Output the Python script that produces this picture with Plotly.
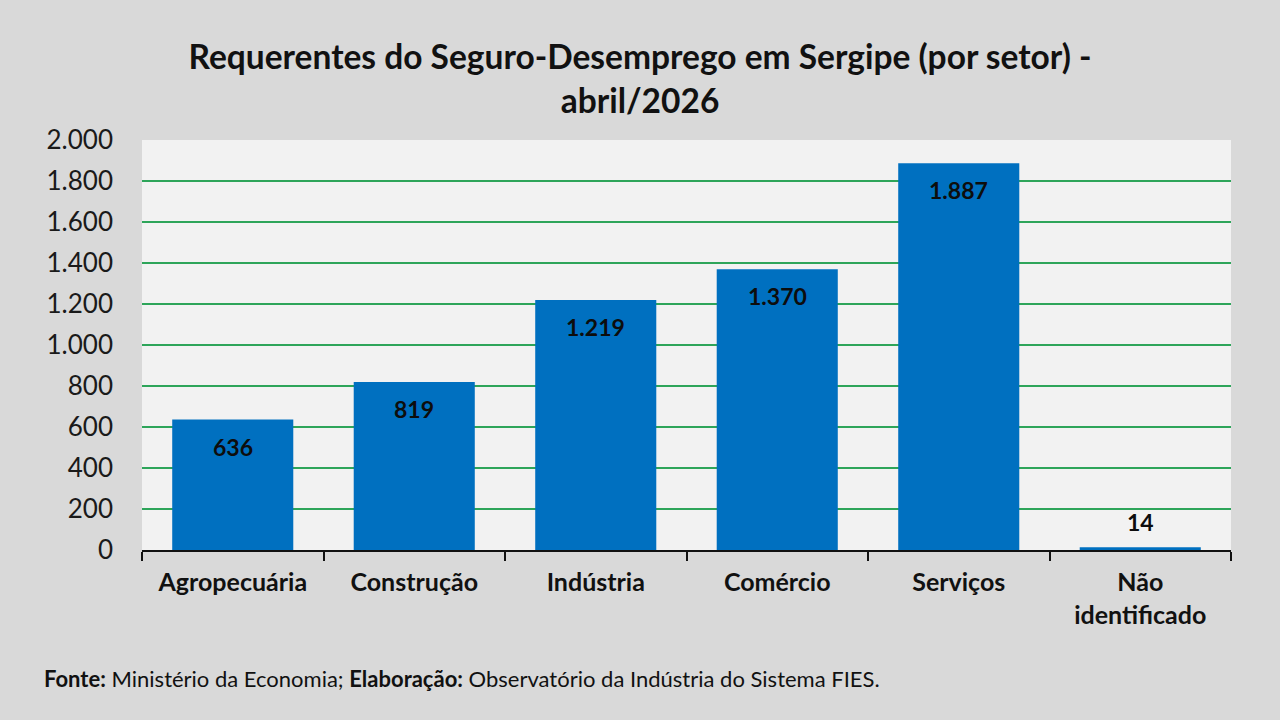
import plotly.graph_objects as go

setores = ["Agropecuária", "Construção", "Indústria", "Comércio", "Serviços", "Não<br>identificado"]
requerentes = [636, 819, 1219, 1370, 1887, 14]
y_ticks = [0, 200, 400, 600, 800, 1000, 1200, 1400, 1600, 1800, 2000]

FONT = "Lato"
AZUL = "#0070C0"
VERDE = "#2ea55a"

def fmt(v):
    return f"{v:,}".replace(",", ".")

fig = go.Figure()
fig.add_trace(go.Bar(
    x=setores, y=requerentes,
    marker=dict(color=AZUL, line=dict(width=0)),
    width=0.667,
    hoverinfo="skip",
))

# rótulos de dados: dentro da barra (topo), ou acima se a barra for pequena
for s, v in zip(setores, requerentes):
    fora = v < 200
    fig.add_annotation(
        x=s, y=v, text=f"<b>{fmt(v)}</b>", showarrow=False,
        yshift=25 if fora else -27,
        font=dict(family=FONT, size=23, color="#0d0d0d"),
    )

fig.add_annotation(
    xref="paper", yref="paper", x=-0.0918, y=-0.313, xanchor="left", yanchor="middle",
    text="<b>Fonte:</b> Ministério da Economia; <b>Elaboração:</b> Observatório da Indústria do Sistema FIES.",
    showarrow=False, font=dict(family=FONT, size=22, color="#111111"),
)

fig.update_layout(
    width=1280, height=720,
    paper_bgcolor="#d9d9d9", plot_bgcolor="#f2f2f2",
    margin=dict(l=142, r=49, t=140, b=170),
    separators=",.",
    showlegend=False,
    title=dict(
        text="<b>Requerentes do Seguro-Desemprego em Sergipe (por setor) -<br>abril/2026</b>",
        x=0.5, xanchor="center", y=0.904, yanchor="middle",
        font=dict(family=FONT, size=33.5, color="#111111"),
    ),
    bargap=0.333,
)
fig.update_xaxes(
    type="category", tickson="boundaries", ticks="outside", ticklen=9, tickwidth=2,
    tickcolor="#111111", showline=True, linecolor="#111111", linewidth=2,
    showgrid=False, ticklabelstandoff=9,
    tickfont=dict(family=FONT, size=25, color="#111111", weight="bold"),
)
fig.update_yaxes(
    range=[0, 2000], tickvals=y_ticks, tickformat=",d", separatethousands=True,
    showgrid=True, gridcolor=VERDE, gridwidth=2, zeroline=False, showline=False,
    ticks="", ticklabelstandoff=28,
    tickfont=dict(family=FONT, size=26, color="#1a1a1a"),
)

fig.write_html("out.html", config={"displayModeBar": False},
               post_script="document.body.style.margin='0px';")
